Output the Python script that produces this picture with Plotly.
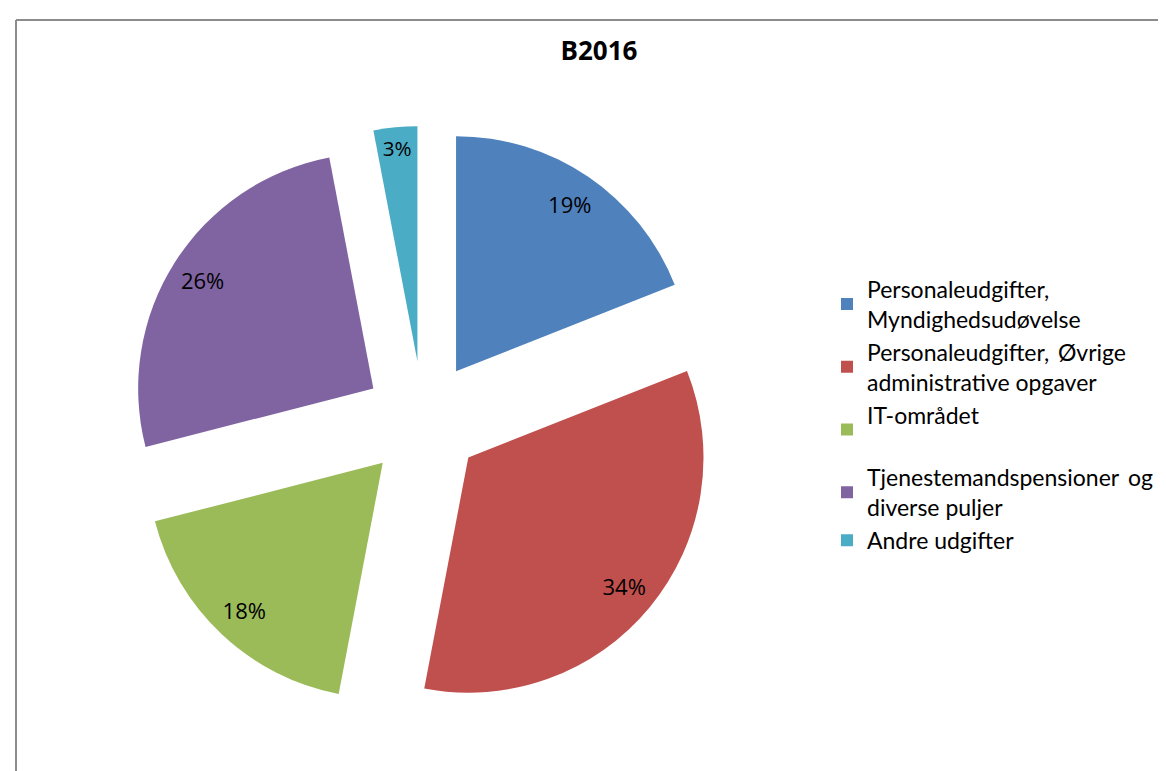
import plotly.graph_objects as go

# data
categories = [
    "Personaleudgifter,<br>Myndighedsudøvelse",
    "Personaleudgifter,\u2009 Øvrige<br>administrative opgaver",
    "IT-området<br> ",
    "Tjenestemandspensioner\u2009 og<br>diverse puljer",
    "Andre udgifter",
]
shares = [19, 34, 18, 26, 3]
colors = ["#4F81BD", "#C0504D", "#9BBB59", "#8064A2", "#4BACC6"]

W, H = 1166, 771
pie_domain = dict(x=[121 / W, 709 / W], y=[1 - 706 / H, 1 - 118 / H])
pulls = [0.25] * len(shares)

fig = go.Figure()
# the coloured slices
fig.add_trace(go.Pie(
    labels=categories,
    values=shares,
    sort=False,
    direction="clockwise",
    rotation=0,
    pull=pulls,
    marker=dict(colors=colors, line=dict(width=0)),
    textinfo="none",
    domain=pie_domain,
    hoverinfo="label+percent",
))
# transparent ring on top, only to place the percent labels near the rim (like Excel)
fig.add_trace(go.Pie(
    labels=categories,
    values=shares,
    sort=False,
    direction="clockwise",
    rotation=0,
    pull=pulls,
    hole=0.72,
    marker=dict(colors=["rgba(0,0,0,0)"] * len(shares), line=dict(width=0)),
    texttemplate="%{percent:.0%}",
    textposition="inside",
    insidetextorientation="horizontal",
    textfont=dict(size=22, color="black"),
    domain=pie_domain,
    showlegend=False,
    hoverinfo="skip",
))

fig.update_layout(
    width=W, height=H,
    margin=dict(l=0, r=0, t=0, b=0),
    paper_bgcolor="white",
    plot_bgcolor="white",
    font=dict(family="Open Sans, Noto Sans, sans-serif", color="black"),
    title=dict(text="<b>B2016</b>", x=591 / W, xanchor="center",
               y=1 - 43 / H, yanchor="middle", font=dict(size=26)),
    legend=dict(x=819 / W, y=1 - 407 / H, xanchor="left", yanchor="middle",
                font=dict(family="Lato, sans-serif", size=23), itemwidth=30),
    showlegend=True,
    shapes=[
        dict(type="line", xref="paper", yref="paper",
             x0=8 / W, x1=8 / W, y0=0, y1=1 - 12 / H,
             line=dict(color="#8c8c8c", width=2)),
        dict(type="line", xref="paper", yref="paper",
             x0=8 / W, x1=1, y0=1 - 12 / H, y1=1 - 12 / H,
             line=dict(color="#8c8c8c", width=2)),
    ],
)

fig.write_html("out.html")
